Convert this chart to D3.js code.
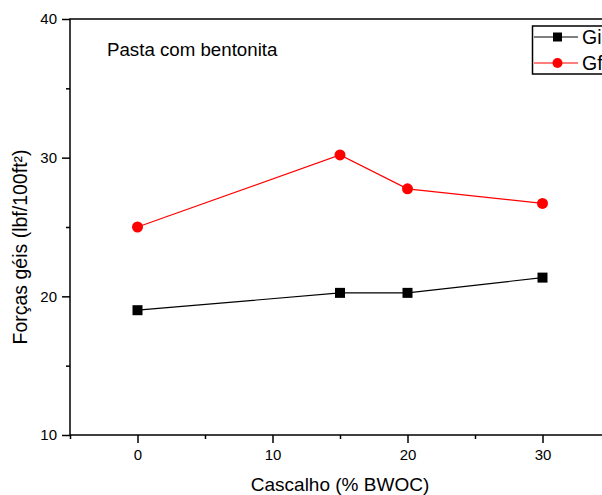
<!DOCTYPE html>
<html>
<head>
<meta charset="utf-8">
<script src="https://cdn.jsdelivr.net/npm/d3@7"></script>
<style>
  body { margin: 0; background: #fff; }
  svg { display: block; font-family: "Liberation Sans", Arial, sans-serif; }
</style>
</head>
<body>
<div id="chart"></div>
<script>
// data
var cascalho = [0, 15, 20, 30];
var gelInicial = [19.0, 20.25, 20.25, 21.35];
var gelFinal = [25.0, 30.2, 27.75, 26.7];
var seriesNames = ["Gi", "Gf"];
var xTicks = [0, 10, 20, 30];
var yTicks = [10, 20, 30, 40];

var width = 602, height = 495;
var margin = { top: 19, right: -8, bottom: 60, left: 70 };

var svg = d3.select("#chart").append("svg")
    .attr("width", width)
    .attr("height", height);

var x = d3.scaleLinear().domain([-5, 35]).range([margin.left, width - margin.right]);
var y = d3.scaleLinear().domain([10, 40]).range([height - margin.bottom, margin.top]);

// frame
svg.append("rect")
    .attr("x", x(-5)).attr("y", y(40))
    .attr("width", x(35) - x(-5)).attr("height", y(10) - y(40))
    .attr("fill", "none").attr("stroke", "#000").attr("stroke-width", 1.5);

// x axis
var xAxis = svg.append("g")
    .attr("transform", "translate(0," + y(10) + ")")
    .call(d3.axisBottom(x).tickValues(xTicks).tickSize(8).tickPadding(6).tickFormat(d3.format("d")));
xAxis.select(".domain").remove();
xAxis.selectAll("line").attr("stroke-width", 1.5);
xAxis.selectAll("text").style("font-size", "15px").attr("fill", "#000");

svg.append("g")
    .attr("transform", "translate(0," + y(10) + ")")
    .call(d3.axisBottom(x).tickValues([-5, 5, 15, 25]).tickSize(4).tickFormat(""))
    .call(g => g.select(".domain").remove())
    .selectAll("line").attr("stroke-width", 1.5);

// y axis
var yAxis = svg.append("g")
    .attr("transform", "translate(" + x(-5) + ",0)")
    .call(d3.axisLeft(y).tickValues(yTicks).tickSize(8).tickPadding(5).tickFormat(d3.format("d")));
yAxis.select(".domain").remove();
yAxis.selectAll("line").attr("stroke-width", 1.5);
yAxis.selectAll("text").style("font-size", "15px").attr("fill", "#000");

svg.append("g")
    .attr("transform", "translate(" + x(-5) + ",0)")
    .call(d3.axisLeft(y).tickValues([15, 25, 35]).tickSize(4).tickFormat(""))
    .call(g => g.select(".domain").remove())
    .selectAll("line").attr("stroke-width", 1.5);

// axis titles
svg.append("text")
    .attr("x", x(15)).attr("y", 491)
    .attr("text-anchor", "middle")
    .style("font-size", "19px")
    .text("Cascalho (% BWOC)");

svg.append("text")
    .attr("transform", "translate(27,247) rotate(-90)")
    .attr("text-anchor", "middle")
    .style("font-size", "19.5px")
    .text("Forças géis (lbf/100ft²)");

svg.append("text")
    .attr("x", 107).attr("y", 56)
    .style("font-size", "18.7px")
    .text("Pasta com bentonita");

// lines
var line = d3.line()
    .x((d, i) => x(cascalho[i]))
    .y(d => y(d));

svg.append("path")
    .datum(gelInicial)
    .attr("d", line)
    .attr("fill", "none").attr("stroke", "#000").attr("stroke-width", 1.2);

svg.append("path")
    .datum(gelFinal)
    .attr("d", line)
    .attr("fill", "none").attr("stroke", "#ff0000").attr("stroke-width", 1.2);

svg.append("g").selectAll("rect")
    .data(gelInicial)
    .enter().append("rect")
    .attr("x", (d, i) => x(cascalho[i]) - 5)
    .attr("y", d => y(d) - 5)
    .attr("width", 10).attr("height", 10)
    .attr("fill", "#000");

svg.append("g").selectAll("circle")
    .data(gelFinal)
    .enter().append("circle")
    .attr("cx", (d, i) => x(cascalho[i]))
    .attr("cy", d => y(d))
    .attr("r", 5.5)
    .attr("fill", "#ff0000");

// legend
var legend = svg.append("g");
legend.append("rect")
    .attr("x", 532.5).attr("y", 26)
    .attr("width", 120).attr("height", 48)
    .attr("fill", "#fff").attr("stroke", "#000").attr("stroke-width", 1.5);

var rows = [
    { name: seriesNames[0], color: "#000", shape: "square", yy: 37 },
    { name: seriesNames[1], color: "#ff0000", shape: "circle", yy: 63 }
];
rows.forEach(function (r) {
    legend.append("line")
        .attr("x1", 534).attr("x2", 578)
        .attr("y1", r.yy).attr("y2", r.yy)
        .attr("stroke", r.color).attr("stroke-width", 1.2);
    if (r.shape === "square") {
        legend.append("rect")
            .attr("x", 553).attr("y", r.yy - 4.5)
            .attr("width", 9).attr("height", 9)
            .attr("fill", r.color);
    } else {
        legend.append("circle")
            .attr("cx", 557.5).attr("cy", r.yy)
            .attr("r", 5)
            .attr("fill", r.color);
    }
    legend.append("text")
        .attr("x", 582).attr("y", r.yy + 7)
        .style("font-size", "19.5px")
        .text(r.name);
});
</script>
</body>
</html>
